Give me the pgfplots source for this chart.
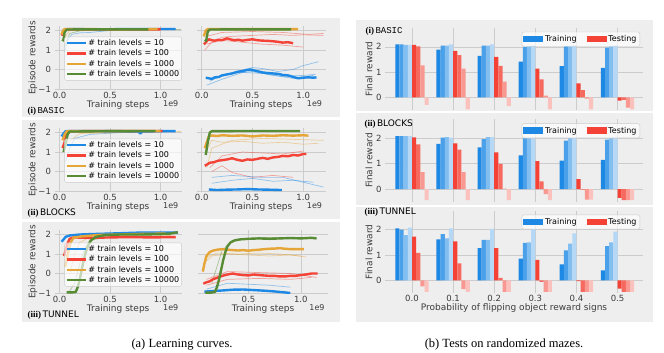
\documentclass[border=0pt]{standalone}
\usepackage{fontspec}
\setmainfont{DejaVu Sans}
\newfontfamily\capfont{Liberation Serif}
\newfontfamily\monof{Liberation Mono}
\usepackage{pgfplots}
\pgfplotsset{compat=1.18}
\definecolor{panelbg}{RGB}{238,238,238}
\definecolor{gridc}{RGB}{204,204,204}
\definecolor{lab}{RGB}{60,60,60}
\definecolor{cB}{RGB}{30,136,229}
\definecolor{cR}{RGB}{244,67,54}
\definecolor{cO}{RGB}{230,165,55}
\definecolor{cG}{RGB}{88,140,52}
\newcommand\fs[1]{\fontsize{#1}{#1}\selectfont}
\pgfplotsset{
  base/.style={scale only axis, axis line style={draw=none}, tick style={draw=none},
    grid=major, grid style={gridc, line width=0.5pt},
    tick label style={font=\fs{8.5}, text=lab}, clip=true},
  lc/.style={base, anchor=south west, ymin=-1.05, ymax=2.25, ytick={-1,0,1,2},
    xtick={0,0.5,1}, xticklabels={0.0,0.5,1.0}, height=64.35pt,
    xticklabel style={yshift=1.5pt},
    legend image code/.code={\draw[##1,line width=2.4pt,sharp corners,draw opacity=1] (0pt,0pt) -- (19pt,0pt);},
    legend style={at={(1,1)}, anchor=north east, yshift=-11pt, font=\fs{8}, fill=white, fill opacity=0.65, text opacity=1, draw=gridc, rounded corners=2pt, inner sep=1pt, nodes={inner sep=1.4pt}},
    legend cell align=left},
  bc/.style={base, anchor=south west, width=258pt, height=82.2pt, xmin=-0.657, xmax=5.62, ymin=-0.5, ymax=2.75,
    ytick={0,1,2}, yticklabels={0,1,2}, xtick={0,1,2,3,4,5},
    legend columns=2,
    legend image code/.code={\fill[##1,draw=none,sharp corners,fill opacity=1] (0pt,-3pt) rectangle (20pt,3.5pt);},
    legend style={at={(1,1)}, anchor=north east, xshift=-3pt, yshift=-4pt, font=\fs{8}, fill=white, fill opacity=0.65, text opacity=1, draw=gridc, rounded corners=2pt, inner sep=1.5pt, nodes={inner sep=1.8pt}, /tikz/every even column/.append style={column sep=8pt}}},
  mn/.style={line width=2.4pt, line join=round},
  ft/.style={line width=0.7pt, opacity=0.45, forget plot},
  bb/.style={ybar, bar width=4.17pt, draw=none, forget plot},
}
\begin{document}
\begin{tikzpicture}[x=1pt,y=1pt]
\useasboundingbox (0,0) rectangle (664,353);
\fill[white] (0,0) rectangle (664,353);
\fill[panelbg] (22,236) rectangle (340,335);
\fill[panelbg] (22,134) rectangle (340,233);
\fill[panelbg] (22,31) rectangle (340,131);
\fill[panelbg] (356,31) rectangle (653,333);
\draw[white, line width=2pt] (356,241) -- (653,241);
\draw[white, line width=2pt] (356,146.5) -- (653,146.5);

% ===== Row 1 BASIC =====
\begin{axis}[lc, name=L1, at={(54.5pt,263pt)}, width=127.3pt, xmin=-0.05, xmax=1.21, yticklabels={−1,0,1,2}]
\addplot[ft, cB] coordinates {(0.05,0.9)(0.08,1.5)(0.12,1.8)(0.2,1.88)(0.3,1.9)(0.4,1.95)(0.5,2.0)(0.7,2.03)(1.1,2.05)};
\addplot[ft, cG] coordinates {(0.05,1.2)(0.1,1.85)(0.2,1.98)(0.4,2.04)(0.9,2.05)(1.2,2.05)};
\addplot[ft, cO] coordinates {(0.03,1.5)(0.1,2.0)(0.5,2.05)(1.15,2.05)};
\addplot[mn, cB] coordinates {(0.02,1.78)(0.035,1.8)(0.05,2.05)(0.08,2.07)(0.2,2.07)(0.4,2.06)(0.6,2.07)(0.8,2.07)(1.0,2.08)(1.15,2.08)};
\addplot[mn, cR] coordinates {(0.02,1.75)(0.04,1.9)(0.06,2.06)(0.3,2.06)(0.6,2.06)(0.9,2.06)(1.0,2.06)};
\addplot[mn, cO] coordinates {(0.02,1.8)(0.035,2.0)(0.05,2.07)(0.3,2.07)(0.6,2.06)(0.97,2.07)};
\addplot[mn, cG] coordinates {(0.03,1.45)(0.04,1.55)(0.05,1.9)(0.07,2.05)(0.2,2.06)(0.5,2.06)(0.88,2.06)};
\legend{\# train levels = 10,\# train levels = 100,\# train levels = 1000,\# train levels = 10000}
\end{axis}
\begin{axis}[lc, name=R1, at={(196.6pt,263pt)}, width=129pt, xmin=-0.05, xmax=1.22, yticklabels={}]
\addplot[ft, cR] coordinates {(0.03,1.0)(0.1,1.4)(0.2,1.65)(0.3,1.7)(0.5,1.75)(0.7,1.8)(0.9,1.75)(1.0,1.78)(1.2,1.75)};
\addplot[ft, cR] coordinates {(0.05,1.3)(0.2,1.5)(0.4,1.4)(0.6,1.3)(0.8,1.25)(1.0,1.15)};
\addplot[ft, cR] coordinates {(0.05,1.7)(0.2,1.9)(0.5,1.95)(0.8,1.9)(1.05,1.8)(1.2,1.85)};
\addplot[ft, cB] coordinates {(0.08,-0.6)(0.2,-0.3)(0.35,-0.1)(0.5,0.1)(0.6,0.05)(0.75,-0.1)(0.9,0.0)(1.0,0.2)(1.15,0.4)};
\addplot[ft, cB] coordinates {(0.1,-0.5)(0.3,-0.2)(0.5,-0.1)(0.7,-0.3)(0.9,-0.45)(1.1,-0.3)};
\addplot[ft, cB] coordinates {(0.05,-0.8)(0.2,-0.5)(0.4,-0.15)(0.6,-0.2)(0.8,-0.35)(1.0,-0.3)(1.12,-0.25)};
\addplot[mn, cB] coordinates {(0.04,-0.42)(0.07,-0.45)(0.1,-0.48)(0.13,-0.4)(0.17,-0.38)(0.2,-0.3)(0.25,-0.25)(0.3,-0.2)(0.35,-0.12)(0.4,-0.08)(0.45,-0.02)(0.48,0.0)(0.52,-0.05)(0.56,-0.1)(0.6,-0.15)(0.65,-0.18)(0.7,-0.2)(0.75,-0.22)(0.8,-0.28)(0.85,-0.3)(0.9,-0.38)(0.95,-0.45)(1.0,-0.42)(1.05,-0.4)(1.1,-0.42)(1.13,-0.4)};
\addplot[mn, cR] coordinates {(0.02,1.3)(0.03,1.33)(0.05,1.45)(0.07,1.55)(0.1,1.5)(0.13,1.48)(0.16,1.52)(0.2,1.5)(0.25,1.6)(0.28,1.55)(0.32,1.5)(0.36,1.53)(0.4,1.48)(0.45,1.52)(0.5,1.55)(0.55,1.5)(0.6,1.48)(0.65,1.47)(0.7,1.45)(0.75,1.42)(0.8,1.38)(0.85,1.4)(0.9,1.35)};
\addplot[mn, cO] coordinates {(0.02,1.7)(0.04,2.0)(0.06,2.07)(0.5,2.07)(0.95,2.07)};
\addplot[mn, cG] coordinates {(0.03,1.45)(0.045,1.5)(0.06,1.95)(0.08,2.05)(0.3,2.06)(0.6,2.06)(0.88,2.06)};
\end{axis}

% ===== Row 2 BLOCKS =====
\begin{axis}[lc, name=L2, at={(54.5pt,161pt)}, width=127.3pt, xmin=-0.05, xmax=1.21, yticklabels={−1,0,1,2}]
\addplot[ft, cB] coordinates {(0.06,0.5)(0.1,1.2)(0.15,1.7)(0.3,1.9)(0.6,2.0)(1.1,2.05)};
\addplot[ft, cO] coordinates {(0.08,1.5)(0.2,1.95)(1.2,2.05)};
\addplot[mn, cB] coordinates {(0.02,1.8)(0.04,1.95)(0.06,2.07)(0.3,2.08)(0.6,2.07)(0.78,2.05)(0.8,1.95)(0.82,2.05)(1.0,2.07)(1.15,2.07)};
\addplot[mn, cR] coordinates {(0.03,1.2)(0.05,1.5)(0.07,2.0)(0.1,2.07)(0.5,2.08)(1.02,2.08)};
\addplot[mn, cO] coordinates {(0.03,1.6)(0.05,1.9)(0.07,2.06)(0.5,2.08)(1.0,2.08)};
\addplot[mn, cG] coordinates {(0.04,1.0)(0.06,1.4)(0.08,1.9)(0.1,2.05)(0.5,2.07)(0.95,2.08)};
\legend{\# train levels = 10,\# train levels = 100,\# train levels = 1000,\# train levels = 10000}
\end{axis}
\begin{axis}[lc, name=R2, at={(196.6pt,161pt)}, width=129pt, xmin=-0.05, xmax=1.22, yticklabels={}]
\addplot[ft, cO] coordinates {(0.04,1.0)(0.1,1.6)(0.2,1.5)(0.4,1.55)(0.6,1.45)(0.8,1.5)(1.0,1.4)(1.15,1.45)};
\addplot[ft, cO] coordinates {(0.05,0.2)(0.1,1.2)(0.3,1.6)(0.6,1.7)(0.9,1.65)(1.2,1.6)};
\addplot[ft, cR] coordinates {(0.08,0.2)(0.2,0.8)(0.4,1.0)(0.6,0.95)(0.8,0.9)(1.0,1.05)};
\addplot[ft, cR] coordinates {(0.1,0.0)(0.2,0.3)(0.3,-0.05)(0.5,-0.3)(0.7,-0.2)(0.9,-0.3)};
\addplot[ft, cB] coordinates {(0.1,-0.6)(0.3,-0.45)(0.5,-0.35)(0.7,-0.5)(0.9,-0.45)(1.1,-0.55)};
\addplot[ft, cB] coordinates {(0.1,-0.3)(0.3,-0.2)(0.6,-0.3)(0.8,-0.3)(1.0,-0.55)(1.2,-0.8)};
\addplot[mn, cB] coordinates {(0.07,-0.92)(0.15,-0.95)(0.25,-0.93)(0.35,-0.92)(0.45,-0.9)(0.55,-0.92)(0.65,-0.93)(0.72,-0.94)(0.79,-0.95)};
\addplot[mn, cR] coordinates {(0.03,0.3)(0.05,0.35)(0.08,0.45)(0.12,0.48)(0.16,0.55)(0.2,0.58)(0.25,0.62)(0.3,0.68)(0.35,0.6)(0.4,0.55)(0.45,0.62)(0.5,0.6)(0.55,0.65)(0.6,0.7)(0.65,0.65)(0.7,0.72)(0.75,0.75)(0.8,0.8)(0.85,0.78)(0.9,0.85)(0.95,0.82)(1.0,0.9)(1.03,0.9)};
\addplot[mn, cO] coordinates {(0.03,1.2)(0.05,1.5)(0.07,1.8)(0.1,1.85)(0.15,1.82)(0.2,1.86)(0.3,1.83)(0.4,1.85)(0.5,1.8)(0.6,1.85)(0.7,1.83)(0.8,1.86)(0.9,1.84)(1.0,1.86)(1.05,1.84)};
\addplot[mn, cG] coordinates {(0.04,0.85)(0.06,1.5)(0.08,2.0)(0.1,2.07)(0.5,2.08)(0.97,2.08)};
\end{axis}

% ===== Row 3 TUNNEL =====
\begin{axis}[lc, name=L3, at={(54.5pt,59pt)}, width=127.3pt, xmin=-0.05, xmax=1.21, yticklabels={−1,0,1,2}, legend style={yshift=-2pt}]
\addplot[ft, cG] coordinates {(0.1,-0.9)(0.15,-0.5)(0.2,0.5)(0.25,1.3)(0.3,1.7)(0.5,1.9)(1.0,2.0)};
\addplot[ft, cO] coordinates {(0.1,0.0)(0.15,1.0)(0.2,1.6)(0.3,1.85)(1.1,1.95)};
\addplot[mn, cB] coordinates {(0.02,1.63)(0.04,1.75)(0.06,1.88)(0.1,1.95)(0.2,2.0)(0.3,2.02)(0.5,2.05)(0.8,2.1)(1.0,2.1)(1.17,2.1)};
\addplot[mn, cR] coordinates {(0.045,0.9)(0.06,1.2)(0.08,1.55)(0.1,1.78)(0.14,1.85)(0.3,1.83)(0.5,1.85)(0.7,1.87)(0.9,1.85)(1.15,1.87)};
\addplot[mn, cO] coordinates {(0.055,0.35)(0.07,0.7)(0.09,1.2)(0.11,1.6)(0.14,1.85)(0.25,1.92)(0.4,1.98)(0.6,2.0)(0.8,2.03)(1.05,2.05)};
\addplot[mn, cG] coordinates {(0.07,-0.97)(0.12,-0.97)(0.16,-0.95)(0.18,-0.7)(0.2,-0.3)(0.22,0.2)(0.24,0.7)(0.26,1.1)(0.28,1.4)(0.31,1.7)(0.36,1.88)(0.45,1.97)(0.6,2.0)(0.8,2.0)(1.0,2.02)(1.1,2.05)(1.17,2.12)};
\legend{\# train levels = 10,\# train levels = 100,\# train levels = 1000,\# train levels = 10000}
\end{axis}
\begin{axis}[lc, name=R3, at={(198.1pt,59pt)}, width=130pt, xmin=0.02, xmax=1.26, xtick={0.5,1}, xticklabels={0.5,1.0}, yticklabels={}]
\addplot[ft, cO] coordinates {(0.07,0.5)(0.15,0.9)(0.3,1.0)(0.5,0.95)(0.7,0.9)(0.9,0.95)(1.05,0.85)};
\addplot[ft, cO] coordinates {(0.08,0.8)(0.2,1.05)(0.4,1.0)(0.6,1.05)(0.8,1.0)(1.0,0.9)};
\addplot[ft, cG] coordinates {(0.15,-0.5)(0.25,1.2)(0.35,1.7)(0.6,1.85)(1.1,1.85)};
\addplot[ft, cR] coordinates {(0.1,-0.3)(0.3,0.1)(0.6,0.05)(0.9,0.0)(1.15,-0.2)};
\addplot[ft, cR] coordinates {(0.1,-0.6)(0.3,-0.3)(0.6,-0.25)(0.9,-0.3)(1.1,-0.2)};
\addplot[ft, cB] coordinates {(0.1,-0.8)(0.3,-0.5)(0.5,-0.55)(0.7,-0.6)(0.9,-0.7)};
\addplot[mn, cB] coordinates {(0.08,-0.93)(0.15,-0.9)(0.25,-0.87)(0.35,-0.83)(0.45,-0.82)(0.55,-0.85)(0.65,-0.88)(0.75,-0.92)(0.85,-0.97)(0.9,-1.0)};
\addplot[mn, cR] coordinates {(0.07,-0.52)(0.1,-0.45)(0.13,-0.4)(0.16,-0.3)(0.2,-0.22)(0.25,-0.12)(0.3,-0.05)(0.35,0.0)(0.4,-0.05)(0.45,-0.08)(0.5,-0.1)(0.55,-0.05)(0.6,-0.08)(0.65,-0.1)(0.7,-0.12)(0.75,-0.12)(0.8,-0.15)(0.85,-0.15)(0.9,-0.12)(0.95,-0.12)(1.0,-0.08)(1.05,-0.05)(1.1,0.0)(1.16,0.0)};
\addplot[mn, cO] coordinates {(0.065,0.1)(0.08,0.5)(0.1,0.9)(0.13,1.1)(0.16,1.17)(0.2,1.22)(0.25,1.25)(0.3,1.22)(0.35,1.2)(0.4,1.18)(0.45,1.2)(0.5,1.17)(0.55,1.2)(0.6,1.22)(0.65,1.25)(0.7,1.27)(0.75,1.28)(0.8,1.3)(0.85,1.27)(0.9,1.25)(0.95,1.25)(1.03,1.25)};
\addplot[mn, cG] coordinates {(0.09,-0.98)(0.14,-0.98)(0.18,-0.95)(0.2,-0.7)(0.22,-0.3)(0.24,0.2)(0.26,0.7)(0.28,1.1)(0.3,1.4)(0.33,1.6)(0.37,1.7)(0.42,1.75)(0.5,1.78)(0.6,1.8)(0.7,1.78)(0.8,1.8)(0.9,1.82)(1.0,1.8)(1.1,1.83)(1.15,1.8)};
\end{axis}

% labels for learning curves
\foreach \a in {L1,L2,L3}{
  \node[rotate=90, font=\fs{9}, text=lab] at ([xshift=-21.5pt]\a.west) {Episode rewards};}
\foreach \a in {L1,R1,L2,R2,L3,R3}{
  \node[anchor=base, font=\fs{9}, text=lab] at ([yshift=-18pt]\a.south) {Training steps};
  \node[anchor=base east, font=\fs{8}, text=lab] at ([yshift=-17pt]\a.south east) {1e9};}
\node[anchor=base west, font=\fs{9}] at (24,239) {{\capfont\bfseries (i)}\,{\monof BASIC}};
\node[anchor=base west, font=\fs{9}] at (24,137) {{\capfont\bfseries (ii)}\,BLOCKS};
\node[anchor=base west, font=\fs{9}] at (24,35) {{\capfont\bfseries (iii)}\,TUNNEL};

% ===== Bar charts =====
\begin{axis}[bc, name=B1, at={(385pt,242.95pt)}, xticklabels={}]
\addplot[bb, bar shift=-14.595pt, fill=cB] coordinates {(0,2.1)(1,1.89)(2,1.64)(3,1.41)(4,1.24)(5,1.17)};
\addplot[bb, bar shift=-10.425pt, fill=cB!80!white] coordinates {(0,2.1)(1,2.05)(2,2.05)(3,2.0)(4,2.02)(5,1.97)};
\addplot[bb, bar shift=-6.255pt, fill=cB!55!white] coordinates {(0,2.08)(1,2.05)(2,2.05)(3,2.02)(4,2.02)(5,2.02)};
\addplot[bb, bar shift=-2.085pt, fill=cB!33!white] coordinates {(0,2.08)(1,2.1)(2,2.1)(3,2.06)(4,2.06)(5,2.06)};
\addplot[bb, bar shift=2.085pt, fill=cR] coordinates {(0,2.08)(1,1.84)(2,1.6)(3,1.14)(4,0.55)(5,-0.13)};
\addplot[bb, bar shift=6.255pt, fill=cR!80!white] coordinates {(0,2.02)(1,1.67)(2,1.25)(3,0.71)(4,0.29)(5,-0.1)};
\addplot[bb, bar shift=10.425pt, fill=cR!55!white] coordinates {(0,1.27)(1,1.14)(2,0.62)(3,0.07)(4,-0.05)(5,-0.4)};
\addplot[bb, bar shift=14.595pt, fill=cR!33!white] coordinates {(0,-0.3)(1,-0.47)(2,-0.34)(3,-0.47)(4,-0.47)(5,-0.47)};
\addlegendimage{fill=cB}\addlegendentry{Training}
\addlegendimage{fill=cR}\addlegendentry{Testing}
\end{axis}
\begin{axis}[bc, name=B2, at={(385pt,151.35pt)}, xticklabels={}]
\addplot[bb, bar shift=-14.595pt, fill=cB] coordinates {(0,2.09)(1,1.78)(2,1.65)(3,1.33)(4,1.12)(5,1.15)};
\addplot[bb, bar shift=-10.425pt, fill=cB!80!white] coordinates {(0,2.09)(1,2.03)(2,1.97)(3,2.0)(4,1.91)(5,1.95)};
\addplot[bb, bar shift=-6.255pt, fill=cB!55!white] coordinates {(0,2.09)(1,2.05)(2,2.05)(3,2.0)(4,2.0)(5,2.0)};
\addplot[bb, bar shift=-2.085pt, fill=cB!33!white] coordinates {(0,2.09)(1,2.03)(2,2.05)(3,2.0)(4,2.0)(5,2.0)};
\addplot[bb, bar shift=2.085pt, fill=cR] coordinates {(0,2.04)(1,1.8)(2,1.45)(3,1.1)(4,0.39)(5,-0.35)};
\addplot[bb, bar shift=6.255pt, fill=cR!80!white] coordinates {(0,1.76)(1,1.56)(2,0.99)(3,0.3)(4,-0.02)(5,-0.44)};
\addplot[bb, bar shift=10.425pt, fill=cR!55!white] coordinates {(0,0.67)(1,0.67)(2,0.01)(3,-0.2)(4,-0.42)(5,-0.44)};
\addplot[bb, bar shift=14.595pt, fill=cR!33!white] coordinates {(0,-0.44)(1,-0.44)(2,-0.44)(3,-0.44)(4,-0.42)(5,-0.44)};
\addlegendimage{fill=cB}\addlegendentry{Training}
\addlegendimage{fill=cR}\addlegendentry{Testing}
\end{axis}
\begin{axis}[bc, name=B3, at={(385pt,60.05pt)}, xticklabels={0.0,0.1,0.2,0.3,0.4,0.5}, xticklabel style={yshift=1pt}]
\addplot[bb, bar shift=-14.595pt, fill=cB] coordinates {(0,2.05)(1,1.62)(2,1.27)(3,0.86)(4,0.63)(5,0.39)};
\addplot[bb, bar shift=-10.425pt, fill=cB!80!white] coordinates {(0,2.0)(1,1.83)(2,1.6)(3,1.48)(4,1.18)(5,1.35)};
\addplot[bb, bar shift=-6.255pt, fill=cB!55!white] coordinates {(0,1.79)(1,1.66)(2,1.6)(3,1.5)(4,1.45)(5,1.5)};
\addplot[bb, bar shift=-2.085pt, fill=cB!33!white] coordinates {(0,2.08)(1,2.05)(2,2.03)(3,2.03)(4,1.86)(5,1.92)};
\addplot[bb, bar shift=2.085pt, fill=cR] coordinates {(0,1.73)(1,1.54)(2,1.27)(3,0.81)(4,-0.03)(5,-0.33)};
\addplot[bb, bar shift=6.255pt, fill=cR!80!white] coordinates {(0,1.08)(1,0.67)(2,0.1)(3,-0.06)(4,-0.46)(5,-0.46)};
\addplot[bb, bar shift=10.425pt, fill=cR!55!white] coordinates {(0,-0.24)(1,-0.35)(2,-0.46)(3,-0.46)(4,-0.46)(5,-0.46)};
\addplot[bb, bar shift=14.595pt, fill=cR!33!white] coordinates {(0,-0.46)(1,-0.46)(2,-0.46)(3,-0.46)(4,-0.46)(5,-0.46)};
\addlegendimage{fill=cB}\addlegendentry{Training}
\addlegendimage{fill=cR}\addlegendentry{Testing}
\end{axis}
\foreach \a in {B1,B2,B3}{
  \node[rotate=90, font=\fs{9}, text=lab] at ([xshift=-16pt]\a.west) {Final reward};}
\node[anchor=base, font=\fs{9}, text=lab] at ([yshift=-18pt]B3.south) {Probability of flipping object reward signs};
\node[anchor=base west, font=\fs{9}] at (362,319) {{\capfont\bfseries (i)}\,{\monof BASIC}};
\node[anchor=base west, font=\fs{9}] at (361,226.7) {{\capfont\bfseries (ii)}\,BLOCKS};
\node[anchor=base west, font=\fs{9}] at (361,138.3) {{\capfont\bfseries (iii)}\,TUNNEL};

% captions
\node[anchor=base, font=\capfont\fs{12.5}] at (182,5) {(a) Learning curves.};
\node[anchor=base, font=\capfont\fs{12.5}] at (504,5) {(b) Tests on randomized mazes.};
\end{tikzpicture}
\end{document}
